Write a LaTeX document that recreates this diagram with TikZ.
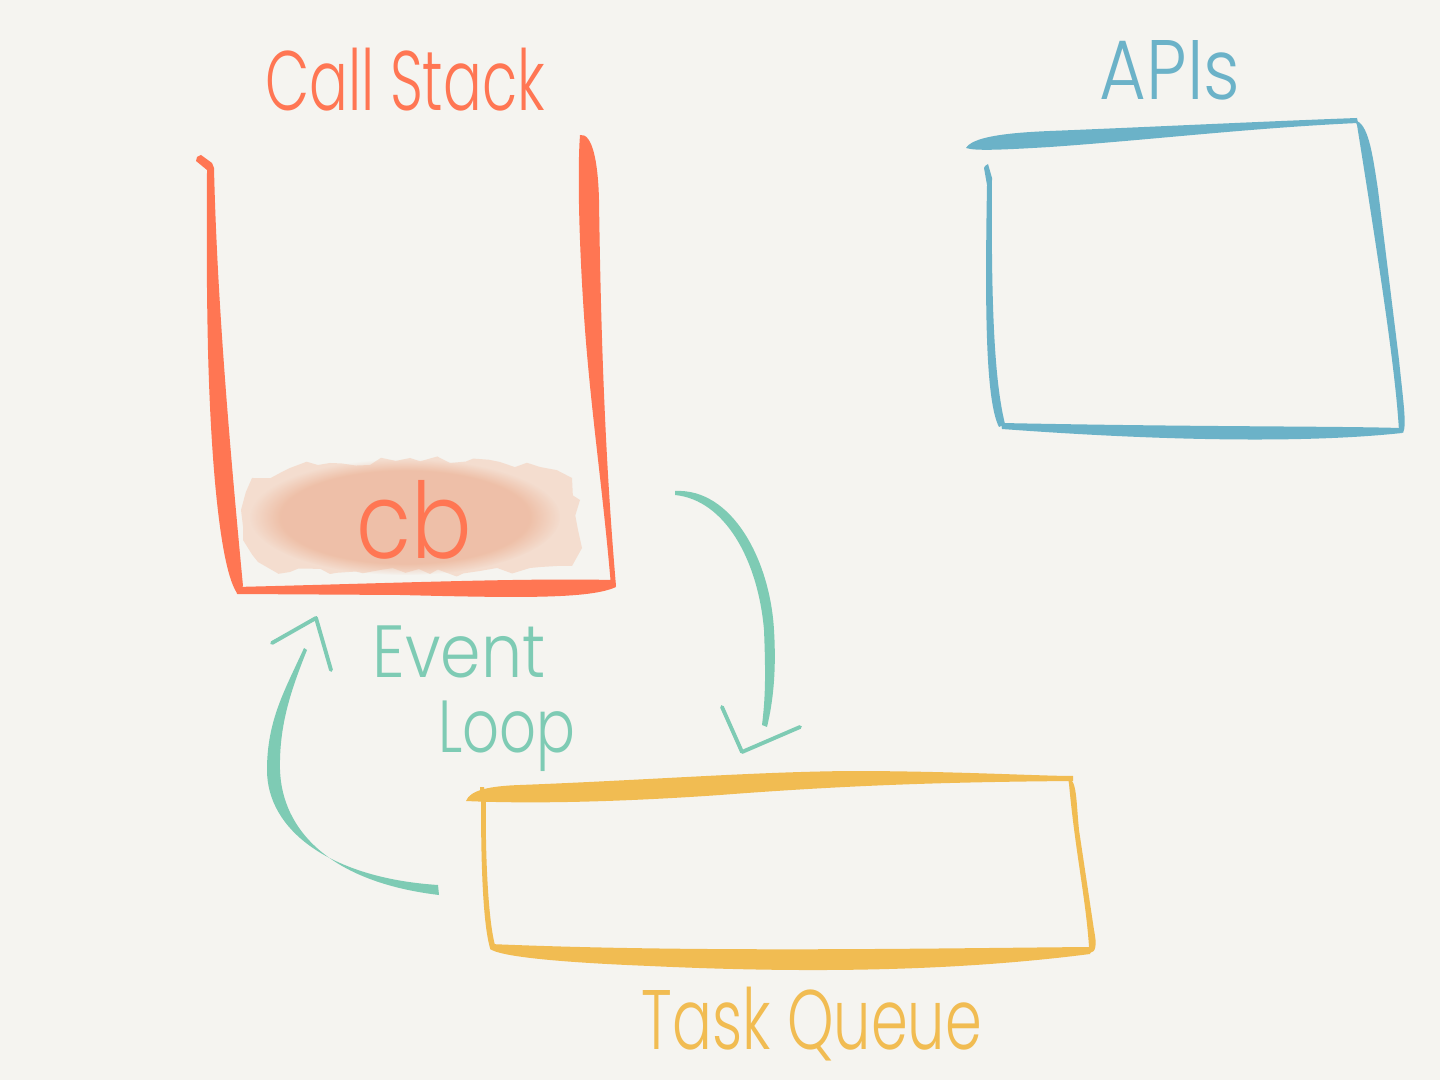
\documentclass[tikz,border=0pt]{standalone}
\usepackage{fontspec}
\setmainfont{Poppins}[UprightFont = * Light]
\usetikzlibrary{fadings,decorations.pathmorphing}
\definecolor{bg}{HTML}{F5F4F0}
\definecolor{csred}{HTML}{FF7653}
\definecolor{apiblue}{HTML}{6BB2C8}
\definecolor{elteal}{HTML}{7ECBB4}
\definecolor{tqyellow}{HTML}{F1BC52}
\definecolor{blobout}{HTML}{F4DDCF}
\definecolor{blobin}{HTML}{EAA888}
\tikzset{
  lbl/.style={inner sep=0pt, font=\fontsize{24}{28}\selectfont},
  arrowline/.style={draw=elteal, line width=1.1pt, line cap=round, line join=round},
  ragged/.style={decorate, decoration={random steps, segment length=4, amplitude=1.5}},
}
\begin{document}
\begin{tikzpicture}[x=0.01cm,y=-0.01cm]
\fill[bg] (0,0) rectangle (1440,1080);
\useasboundingbox (0,0) rectangle (1440,1080);

% ---- Call stack ----
\node[lbl, text=csred, xscale=0.68] (cslbl) at (405,80) {Call Stack};
% blob behind
\fill[blobout, ragged] (252,478) -- (290,468) -- (330,463) -- (370,465) -- (410,458)
  -- (450,463) -- (500,462) -- (540,467) -- (572,478) -- (580,500) -- (578,530)
  -- (582,548) -- (572,566) -- (530,568) -- (480,571) -- (430,574) -- (380,570)
  -- (330,574) -- (290,572) -- (258,562) -- (243,540) -- (241,510) -- cycle;
\fill[blobin, path fading=circle with fuzzy edge 20 percent, fill opacity=0.55]
  (405,517) ellipse (155 and 58);
% stack walls
\fill[csred] (197,157) -- (201,155) -- (212,163) -- (214,168)
  .. controls (217,300) and (230,450) .. (243,586)
  -- (237,593) .. controls (221,570) and (211,470) .. (208,350)
  .. controls (206,260) and (207,200) .. (207,170) -- (196,161) -- cycle;
\fill[csred] (236,587) .. controls (400,583) and (520,578) .. (613,580)
  -- (616,587) .. controls (590,599) and (520,598) .. (400,595) -- (237,594) -- cycle;
\fill[csred] (580,135) .. controls (592,133) and (598,160) .. (599,200)
  .. controls (601,350) and (606,470) .. (616,586) -- (611,586)
  .. controls (602,480) and (589,400) .. (583,300)
  .. controls (578,220) and (578,160) .. (580,135) -- cycle;
\node[lbl, text=csred, xscale=0.85, font=\fontsize{30}{34}\selectfont] (cb) at (414,520) {cb};

% ---- APIs ----
\node[lbl, text=apiblue, xscale=0.85] (apilbl) at (1170,70) {APIs};
\fill[apiblue] (966,148) .. controls (972,138) and (1000,133) .. (1050,131)
  .. controls (1150,127) and (1250,122) .. (1357,118)
  -- (1358,123) .. controls (1250,128) and (1150,140) .. (1050,147)
  .. controls (1000,150) and (975,151) .. (966,148) -- cycle;
\fill[apiblue] (1355,120) .. controls (1368,124) and (1372,150) .. (1378,190)
  -- (1399,360) .. controls (1403,400) and (1407,425) .. (1403,433)
  -- (1399,431) .. controls (1396,380) and (1385,300) .. (1357,125) -- cycle;
\fill[apiblue] (1001,423) .. controls (1200,427) and (1330,426) .. (1400,428)
  -- (1402,433) .. controls (1300,444) and (1150,440) .. (1002,429) -- cycle;
\fill[apiblue] (985,166) -- (988,164) -- (992,178)
  .. controls (991,300) and (994,380) .. (1005,424)
  -- (999,427) .. controls (985,400) and (985,300) .. (987,185) -- (984,168) -- cycle;

% ---- Event loop label ----
\node[lbl, text=elteal, xscale=0.88, font=\fontsize{21}{24}\selectfont, anchor=west] (ev) at (372,652) {Event};
\node[lbl, text=elteal, xscale=0.78, font=\fontsize{21}{24}\selectfont, anchor=west] (lp) at (438,736) {Loop};

% ---- Task queue ----
\node[lbl, text=tqyellow, xscale=0.7] (tqlbl) at (812,1024) {Task Queue};
\fill[tqyellow] (466,801) .. controls (470,790) and (490,786) .. (520,785)
  .. controls (650,780) and (750,772) .. (850,771)
  .. controls (950,771) and (1040,776) .. (1073,776)
  -- (1073,781) .. controls (950,782) and (850,785) .. (720,795)
  .. controls (620,802) and (530,804) .. (466,801) -- cycle;
\fill[tqyellow] (1068,778) .. controls (1077,780) and (1076,800) .. (1079,830)
  -- (1094,930) .. controls (1097,945) and (1096,952) .. (1090,953)
  -- (1089,947) .. controls (1086,900) and (1075,850) .. (1069,784) -- cycle;
\fill[tqyellow] (490,944) .. controls (700,953) and (950,948) .. (1092,947)
  -- (1090,954) .. controls (950,972) and (800,973) .. (650,966)
  .. controls (550,962) and (500,956) .. (490,949) -- cycle;
\fill[tqyellow] (480,787) -- (484,787) -- (486,800) .. controls (485,850) and (488,920) .. (495,945)
  -- (490,948) .. controls (482,920) and (481,850) .. (481,800) -- cycle;

% ---- Event loop arrows ----
\coordinate (rt) at (742,752);
\fill[elteal] (675,491) .. controls (732,488) and (770,560) .. (774,630)
  .. controls (777,680) and (771,710) .. (767,727) -- (762,725)
  .. controls (765,700) and (766,680) .. (764,630)
  .. controls (758,560) and (725,500) .. (675,495) -- cycle;
\draw[arrowline] (722,707) -- (rt) -- (800,727);

\coordinate (lt) at (316,618);
\fill[elteal] (438,885) .. controls (330,878) and (267,830) .. (267,770)
  .. controls (267,720) and (285,690) .. (304,648) -- (307,650)
  .. controls (291,690) and (279,725) .. (280,770)
  .. controls (282,830) and (330,882) .. (439,895) -- cycle;
\draw[arrowline] (272,643) -- (lt) -- (331,670);
\end{tikzpicture}
\end{document}
